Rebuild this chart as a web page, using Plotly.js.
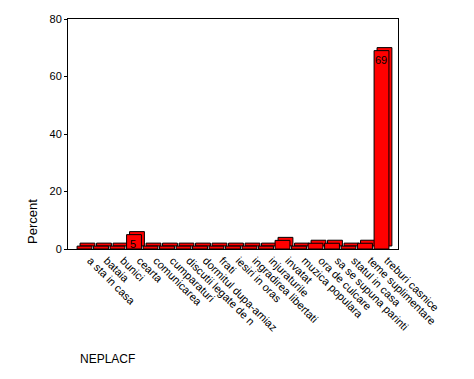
<!DOCTYPE html>
<html>
<head>
<meta charset="utf-8">
<script src="https://cdn.plot.ly/plotly-3.0.1.min.js"></script>
<style>html,body{margin:0;padding:0;background:#fff;}#chart{width:474px;height:379px;}</style>
</head>
<body>
<div id="chart"></div>
<script>
var categories = ["a sta in casa", "bataia", "bunici", "cearta", "comunicarea", "cumparaturi",
  "discutii legate de n", "dormitul dupa-amiaz", "frati", "iesiri in oras",
  "ingradirea libertati", "injuraturile", "invatat", "muzica populara",
  "ora de culcare", "sa se supuna parinti", "statul in casa", "teme suplimentare",
  "treburi casnice"];
var percents = [1, 1, 1, 5, 1, 1, 1, 1, 1, 1, 1, 1, 3, 1, 2, 2, 1, 2, 69];
var labelled = ["cearta", "treburi casnice"];

var depth = 1.05;     // 3D depth (in % units)
var shift = 0.18;     // 3D depth (in category units)
var bw = 0.9;

var back = {
  type: 'bar', x: categories, y: percents, base: depth,
  width: bw, offset: -bw / 2 + shift,
  marker: {color: '#ff0000', line: {color: '#000', width: 1}},
  hoverinfo: 'skip', showlegend: false
};
var front = {
  type: 'bar', x: categories, y: percents,
  width: bw, offset: -bw / 2,
  marker: {color: '#ff0000', line: {color: '#000', width: 1}},
  showlegend: false
};

var annotations = [];
categories.forEach(function (c, i) {
  if (labelled.indexOf(c) >= 0) {
    annotations.push({x: c, y: percents[i], xref: 'x', yref: 'y', text: String(percents[i]),
      showarrow: false, yanchor: 'top', yshift: -1, xshift: -1,
      font: {family: 'Liberation Sans, Arial, sans-serif', size: 11, color: '#000'}});
  }
});
annotations.push({xref: 'paper', yref: 'paper', x: (32 - 68) / 330, y: (249 - 222) / 230,
  text: 'Percent', textangle: -90, showarrow: false, xanchor: 'center', yanchor: 'middle',
  font: {family: 'Liberation Sans, Arial, sans-serif', size: 13, color: '#000'}});
annotations.push({xref: 'paper', yref: 'paper', x: (78 - 68) / 330, y: (249 - 359) / 230,
  text: 'NEPLACF', showarrow: false, xanchor: 'left', yanchor: 'middle',
  font: {family: 'Liberation Sans, Arial, sans-serif', size: 12, color: '#000'}});

var layout = {
  width: 474, height: 379,
  margin: {l: 68, r: 76, t: 19, b: 130},
  paper_bgcolor: '#fff', plot_bgcolor: '#fff',
  barmode: 'overlay',
  font: {family: 'Liberation Sans, Arial, sans-serif', size: 11, color: '#000'},
  xaxis: {
    type: 'category', categoryorder: 'array', categoryarray: categories,
    range: [-1, 19], showline: true, linecolor: '#000', linewidth: 1, mirror: true,
    ticks: '', tickangle: 45, ticklabelshift: 6, showgrid: false, zeroline: false,
    tickfont: {size: 11, color: '#000'}, automargin: false
  },
  yaxis: {
    range: [0, 80], tickvals: [0, 20, 40, 60, 80], showline: true, linecolor: '#000',
    linewidth: 1, mirror: true, ticks: 'outside', ticklen: 3, tickcolor: '#000',
    showgrid: false, zeroline: false, tickfont: {size: 11, color: '#000'}, automargin: false
  },
  annotations: annotations
};

Plotly.newPlot('chart', [back, front], layout, {displayModeBar: false, staticPlot: true});
</script>
</body>
</html>
